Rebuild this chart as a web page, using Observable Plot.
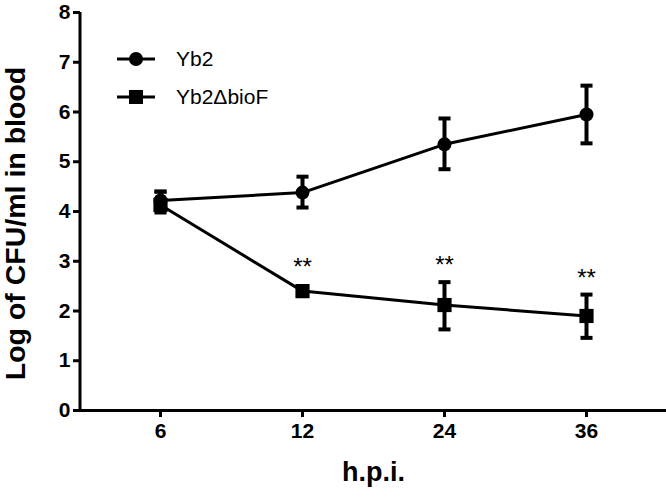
<!DOCTYPE html>
<html>
<head>
<meta charset="utf-8">
<script src="https://cdn.jsdelivr.net/npm/d3@7"></script>
<script src="https://cdn.jsdelivr.net/npm/@observablehq/plot@0.6"></script>
<style>
  html, body { margin: 0; padding: 0; background: #fff; }
  #wrap { position: relative; width: 666px; height: 500px; font-family: "Liberation Sans", Arial, sans-serif; }
  #legend { position: absolute; left: 117px; top: 40px; }
  .row { display: flex; align-items: center; height: 38px; }
  .row span { font-size: 21px; margin-left: 21px; color: #000; }
</style>
</head>
<body>
<div id="wrap"><div id="legend"></div></div>
<script>
const hpi = ["6", "12", "24", "36"];
const series = ["Yb2", "Yb2ΔbioF"];
const yb2Mean = [4.22, 4.38, 5.35, 5.95];
const yb2Low  = [4.05, 4.08, 4.85, 5.37];
const yb2High = [4.40, 4.70, 5.87, 6.53];
const mutMean = [4.13, 2.40, 2.12, 1.90];
const mutLow  = [3.98, 2.30, 1.63, 1.46];
const mutHigh = [4.40, 2.50, 2.58, 2.33];
const starHpi = ["12", "24", "36"];
const starY   = [2.88, 2.92, 2.66];
const yTicks  = [0, 1, 2, 3, 4, 5, 6, 7, 8];

const rows = [];
hpi.forEach((h, i) => {
  rows.push({hpi: h, series: series[0], mean: yb2Mean[i], low: yb2Low[i], high: yb2High[i]});
  rows.push({hpi: h, series: series[1], mean: mutMean[i], low: mutLow[i], high: mutHigh[i]});
});
const wild = rows.filter(d => d.series === series[0]);
const mutant = rows.filter(d => d.series === series[1]);
const stars = starHpi.map((h, i) => ({hpi: h, y: starY[i]}));

// horizontal cap symbol for error bars
const capSymbol = {
  draw(context, size) {
    const w = Math.sqrt(size);
    context.moveTo(-w, 0);
    context.lineTo(w, 0);
  }
};

const tickFont = "'Liberation Sans Narrow', 'Liberation Sans', Arial, sans-serif";

const chart = Plot.plot({
  width: 666,
  height: 500,
  marginLeft: 80,
  marginRight: 0,
  marginTop: 12,
  marginBottom: 90,
  x: {type: "point", domain: hpi, padding: 0.563},
  y: {domain: [0, 8]},
  style: {fontFamily: "'Liberation Sans', Arial, sans-serif", color: "#000", background: "#fff"},
  marks: [
    Plot.axisY({ticks: yTicks, tickSize: 7, tickPadding: 3, strokeWidth: 3, tickFormat: d => String(d),
      fontSize: 21, fontWeight: "bold", fontFamily: tickFont, label: null}),
    Plot.axisX({tickSize: 7, tickPadding: 6, strokeWidth: 3,
      fontSize: 21, fontWeight: "bold", fontFamily: tickFont, label: null}),
    Plot.ruleY([0], {strokeWidth: 3}),
    Plot.line(rows, {x: "hpi", y: "mean", z: "series", stroke: "#000", strokeWidth: 3}),
    Plot.ruleX(rows, {x: "hpi", y1: "low", y2: "high", stroke: "#000", strokeWidth: 4}),
    Plot.dot(rows, {x: "hpi", y: "low", symbol: capSymbol, r: 3.4, stroke: "#000", fill: "none", strokeWidth: 4}),
    Plot.dot(rows, {x: "hpi", y: "high", symbol: capSymbol, r: 3.4, stroke: "#000", fill: "none", strokeWidth: 4}),
    Plot.dot(wild, {x: "hpi", y: "mean", symbol: "circle", r: 7, fill: "#000", stroke: "none"}),
    Plot.dot(mutant, {x: "hpi", y: "mean", symbol: "square", r: 8, fill: "#000", stroke: "none"}),
    Plot.text(stars, {x: "hpi", y: "y", text: () => "**", fontSize: 24, fill: "#000"}),
    Plot.text(["h.p.i."], {frameAnchor: "bottom", dy: 70, text: d => d, fontSize: 27, fontWeight: "bold"}),
    Plot.text(["Log of CFU/ml in blood"], {frameAnchor: "left", dx: -65, dy: 12, rotate: -90, textAnchor: "middle", text: d => d, fontSize: 28.5, fontWeight: "bold"})
  ]
});

// y-axis line, placed via the y scale
const ys = chart.scale("y");
d3.select(chart).append("line")
  .attr("x1", 80).attr("x2", 80)
  .attr("y1", ys.apply(0) + 1.5).attr("y2", ys.apply(8))
  .attr("stroke", "#000").attr("stroke-width", 3);

document.getElementById("wrap").prepend(chart);
chart.style.position = "absolute";
chart.style.left = "0";
chart.style.top = "0";

// legend
const legend = document.getElementById("legend");
series.forEach((s, i) => {
  const row = document.createElement("div");
  row.className = "row";
  const sym = i === 0
    ? '<circle cx="19" cy="10" r="7" fill="#000"/>'
    : '<rect x="12" y="3" width="14" height="14" fill="#000"/>';
  row.innerHTML = `<svg width="38" height="20"><line x1="0" x2="38" y1="10" y2="10" stroke="#000" stroke-width="3"/>${sym}</svg><span>${s}</span>`;
  legend.appendChild(row);
});
legend.style.zIndex = 2;
</script>
</body>
</html>
